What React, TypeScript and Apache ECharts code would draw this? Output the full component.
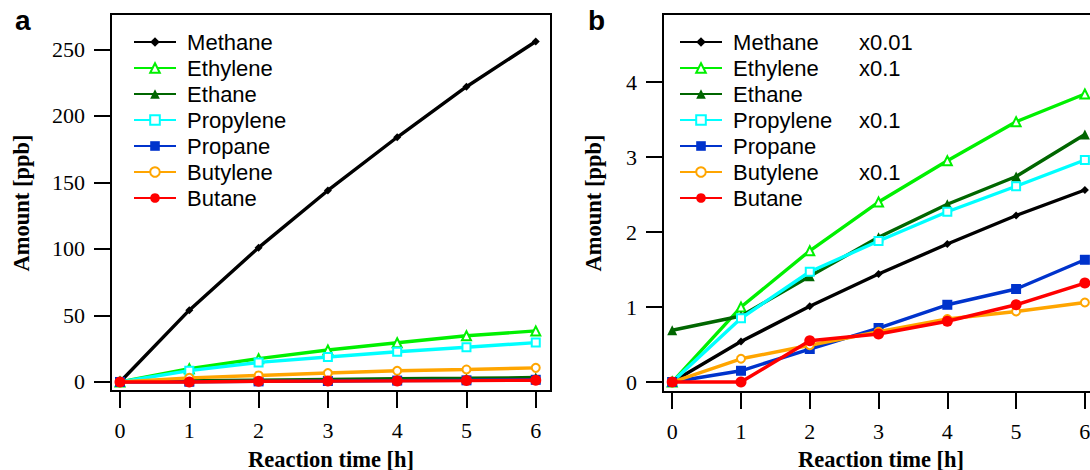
import React, { useEffect, useRef } from 'react';
import * as echarts from 'echarts';

// Reaction time axis (hours)
const hours = [0, 1, 2, 3, 4, 5, 6];

// Measured amounts [ppb]
const methane = [0, 54, 101, 144, 184, 222, 256];
const ethylene = [0, 10.0, 17.5, 24.0, 29.5, 34.7, 38.4];
const ethane = [0.69, 0.88, 1.41, 1.93, 2.37, 2.74, 3.3];
const propylene = [0, 8.5, 14.7, 18.8, 22.7, 26.1, 29.6];
const propane = [0, 0.15, 0.44, 0.72, 1.03, 1.24, 1.63];
const butylene = [0, 3.1, 4.9, 6.7, 8.4, 9.4, 10.6];
const butane = [0, 0, 0.55, 0.64, 0.81, 1.03, 1.32];

const speciesNames = ['Methane', 'Ethylene', 'Ethane', 'Propylene', 'Propane', 'Butylene', 'Butane'];
const speciesValues = [methane, ethylene, ethane, propylene, propane, butylene, butane];

// Scaling used in the zoomed panel (b)
const scaleFactors = [0.01, 0.1, 1, 0.1, 1, 0.1, 1];
const scaleLabels = ['x0.01', 'x0.1', '', 'x0.1', '', 'x0.1', ''];

// Tick values
const xTicks = [0, 1, 2, 3, 4, 5, 6];
const yTicksA = [0, 50, 100, 150, 200, 250];
const yTicksB = [0, 1, 2, 3, 4];

// Series appearance
const colors = ['#000000', '#00f000', '#006600', '#00ffff', '#0033cc', '#ffa500', '#ff0000'];
const symbols = ['diamond', 'emptyTriangle', 'triangle', 'emptyRect', 'rect', 'emptyCircle', 'circle'];
const symbolSizes = [8, 9, 10, 8, 10, 8, 11];

const SERIF = '"Liberation Serif", "Times New Roman", serif';
const SANS = '"Liberation Sans", Arial, Helvetica, sans-serif';

function buildSeries(panel: number) {
  return speciesNames.map((name, i) => {
    const factor = panel === 1 ? scaleFactors[i] : 1;
    const hollow = symbols[i].startsWith('empty');
    return {
      name,
      type: 'line',
      xAxisIndex: panel,
      yAxisIndex: panel,
      data: hours.map((h, k) => [h, +(speciesValues[i][k] * factor).toFixed(4)]),
      symbol: symbols[i],
      symbolSize: symbolSizes[i],
      showSymbol: true,
      lineStyle: { color: colors[i], width: 3.4 },
      itemStyle: {
        color: colors[i],
        borderColor: colors[i],
        borderWidth: hollow ? 1.4 : 0,
      },
      emphasis: { disabled: true },
      z: 2 + i,
    };
  });
}

function valueAxis(
  gridIndex: number,
  min: number,
  max: number,
  ticks: number[],
  margin: number
) {
  return {
    type: 'value',
    gridIndex,
    min,
    max,
    axisLine: { show: false, onZero: false },
    axisTick: {
      show: true,
      inside: false,
      length: 17,
      customValues: ticks,
      lineStyle: { color: '#000', width: 2 },
    },
    axisLabel: {
      show: true,
      customValues: ticks,
      margin,
      color: '#000',
      fontFamily: SERIF,
      fontSize: 22,
    },
    splitLine: { show: false },
  };
}

export default function App() {
  const ref = useRef<HTMLDivElement>(null);

  useEffect(() => {
    if (!ref.current) return;
    const chart = echarts.init(ref.current, undefined, { renderer: 'svg' });

    const legendBase = {
      orient: 'vertical',
      top: 31,
      itemWidth: 42,
      itemHeight: 12,
      itemGap: 4,
      padding: 0,
      selectedMode: false,
      data: speciesNames,
      textStyle: { fontFamily: SANS, fontSize: 22, color: '#000', lineHeight: 22 },
    };

    const option: any = {
      animation: false,
      backgroundColor: '#ffffff',
      grid: [
        {
          left: 111,
          top: 14,
          width: 440,
          height: 377,
          show: true,
          borderColor: '#000',
          borderWidth: 2,
          backgroundColor: 'transparent',
          outerBoundsMode: 'none',
        },
        {
          left: 663,
          top: 14,
          width: 437,
          height: 378,
          show: true,
          borderColor: '#000',
          borderWidth: 2,
          backgroundColor: 'transparent',
          outerBoundsMode: 'none',
        },
      ],
      xAxis: [
        valueAxis(0, -0.13, 6.22, xTicks, 28),
        valueAxis(1, -0.134, 6.22, xTicks, 28),
      ],
      yAxis: [
        valueAxis(0, -6.8, 276.7, yTicksA, 26),
        valueAxis(1, -0.133, 4.907, yTicksB, 26),
      ],
      legend: [
        {
          ...legendBase,
          left: 133,
          formatter: (name: string) => ' ' + name,
        },
        {
          ...legendBase,
          left: 679,
          formatter: (name: string) => {
            const idx = speciesNames.indexOf(name);
            return `{n| ${name}}{s|${scaleLabels[idx]}}`;
          },
          textStyle: {
            ...legendBase.textStyle,
            rich: {
              n: { fontFamily: SANS, fontSize: 22, color: '#000', width: 132, lineHeight: 22 },
              s: { fontFamily: SANS, fontSize: 22, color: '#000', lineHeight: 22 },
            },
          },
        },
      ],
      graphic: [
        {
          type: 'text',
          x: 15,
          y: 20,
          style: { text: 'a', font: `bold 28px ${SANS}`, fill: '#000', align: 'left', verticalAlign: 'middle' },
        },
        {
          type: 'text',
          x: 588,
          y: 20,
          style: { text: 'b', font: `bold 28px ${SANS}`, fill: '#000', align: 'left', verticalAlign: 'middle' },
        },
        {
          type: 'text',
          x: 331,
          y: 459,
          style: { text: 'Reaction time [h]', font: `bold 22.5px ${SERIF}`, fill: '#000', align: 'center', verticalAlign: 'middle' },
        },
        {
          type: 'text',
          x: 881,
          y: 459,
          style: { text: 'Reaction time [h]', font: `bold 22.5px ${SERIF}`, fill: '#000', align: 'center', verticalAlign: 'middle' },
        },
        {
          type: 'text',
          x: 21,
          y: 203,
          rotation: Math.PI / 2,
          style: { text: 'Amount [ppb]', font: `bold 22.5px ${SERIF}`, fill: '#000', align: 'center', verticalAlign: 'middle' },
        },
        {
          type: 'text',
          x: 593,
          y: 203,
          rotation: Math.PI / 2,
          style: { text: 'Amount [ppb]', font: `bold 22.5px ${SERIF}`, fill: '#000', align: 'center', verticalAlign: 'middle' },
        },
      ],
      series: [...buildSeries(0), ...buildSeries(1)],
    };

    chart.setOption(option);
    return () => chart.dispose();
  }, []);

  return (
    <div
      ref={ref}
      style={{ position: 'absolute', left: 0, top: 0, width: 1090, height: 470, background: '#fff' }}
    />
  );
}
